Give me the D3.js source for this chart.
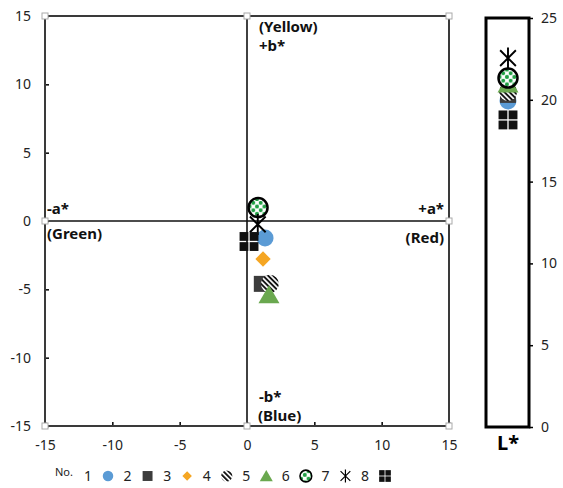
<!DOCTYPE html>
<html>
<head>
<meta charset="utf-8">
<script src="https://cdn.jsdelivr.net/npm/d3@7"></script>
<style>
  body { margin: 0; background: #fff; }
  svg text { font-family: "Noto Sans", "Open Sans", sans-serif; }
  .tick line { stroke: #000; stroke-width: 1.5; }
  .tick text { font-size: 14px; fill: #222; }
</style>
</head>
<body>
<svg id="chart" width="563" height="488"></svg>
<script>
// values
const sampleNo = ['1', '2', '3', '4', '5', '6', '7', '8'];
const aStar = [1.34, 1.1, 1.19, 1.7, 1.63, 0.82, 0.8, 0.15];
const bStar = [-1.24, -4.6, -2.78, -4.6, -5.4, 0.98, -0.25, -1.5];
const lStar = [19.93, 20.3, 20.72, 20.48, 20.97, 21.33, 22.55, 18.77];
const abTicks = [-15, -10, -5, 0, 5, 10, 15];
const lTicks = [0, 5, 10, 15, 20, 25];

// marker look per sample
const markerType = ['circle', 'square', 'diamond', 'striped', 'triangle', 'dotted', 'asterisk', 'quad'];

const svg = d3.select('#chart');

const x = d3.scaleLinear().domain([-15, 15]).range([45, 449]);
const y = d3.scaleLinear().domain([-15, 15]).range([426, 16]);
const yL = d3.scaleLinear().domain([0, 25]).range([427, 18]);
const plain = d => String(d);

const defs = svg.append('defs');
const stripes = defs.append('pattern')
  .attr('id', 'stripes').attr('patternUnits', 'userSpaceOnUse')
  .attr('width', 3.6).attr('height', 3.6)
  .attr('patternTransform', 'rotate(-45)');
stripes.append('rect').attr('width', 3.6).attr('height', 3.6).attr('fill', '#fff');
stripes.append('rect').attr('width', 1.9).attr('height', 3.6).attr('fill', '#111');

const dots = defs.append('pattern')
  .attr('id', 'dots').attr('patternUnits', 'userSpaceOnUse')
  .attr('width', 7.4).attr('height', 7.4).attr('x', 0.8).attr('y', 0.8);
dots.append('rect').attr('width', 7.4).attr('height', 7.4).attr('fill', '#fff');
dots.append('circle').attr('cx', 1.85).attr('cy', 1.85).attr('r', 2).attr('fill', '#22a045');
dots.append('circle').attr('cx', 5.55).attr('cy', 5.55).attr('r', 2).attr('fill', '#22a045');

function drawMarker(g, type, s) {
  // s = scale factor, 1 for plot markers
  if (type === 'circle') {
    g.append('circle').attr('r', 8.5 * s).attr('fill', '#5b9bd5');
  } else if (type === 'square') {
    g.append('rect').attr('x', -8 * s).attr('y', -8 * s)
      .attr('width', 16 * s).attr('height', 16 * s).attr('fill', '#3c3c3c');
  } else if (type === 'diamond') {
    g.append('path').attr('fill', '#f5a623')
      .attr('d', d3.symbol(d3.symbolDiamond2, 150 * s * s)());
  } else if (type === 'striped') {
    g.append('circle').attr('r', 9 * s).attr('fill', 'url(#stripes)');
  } else if (type === 'triangle') {
    g.append('path').attr('fill', '#6aa84f')
      .attr('d', `M0,${-9.5 * s}L${10.5 * s},${8.5 * s}L${-10.5 * s},${8.5 * s}Z`);
  } else if (type === 'dotted') {
    g.append('circle').attr('r', 9.5 * s).attr('fill', 'url(#dots)')
      .attr('stroke', '#000').attr('stroke-width', 2.5 * s);
  } else if (type === 'asterisk') {
    const r = 10.5 * s;
    g.append('path').attr('fill', 'none').attr('stroke', '#000')
      .attr('stroke-width', 1.9 * s)
      .attr('d', `M0,${-r}V${r}M${-0.75 * r},${-0.75 * r}L${0.75 * r},${0.75 * r}M${0.75 * r},${-0.75 * r}L${-0.75 * r},${0.75 * r}`);
  } else if (type === 'quad') {
    const h = 8.8 * s, gap = 1.3 * s;
    [[-1, -1], [1, -1], [-1, 1], [1, 1]].forEach(([i, j]) => {
      g.append('rect')
        .attr('x', i < 0 ? -h - gap / 2 : gap / 2)
        .attr('y', j < 0 ? -h - gap / 2 : gap / 2)
        .attr('width', h).attr('height', h).attr('fill', '#111');
    });
  }
}

// ---- main a*/b* plot ----
svg.append('g')
  .attr('transform', 'translate(45,0)')
  .call(d3.axisLeft(y).tickValues(abTicks).tickFormat(plain).tickSizeInner(-4).tickSizeOuter(0).tickPadding(14))
  .call(g => g.select('.domain').remove());

svg.append('g')
  .attr('transform', 'translate(0,426)')
  .call(d3.axisBottom(x).tickValues(abTicks).tickFormat(plain).tickSizeInner(-4).tickSizeOuter(0).tickPadding(14))
  .call(g => g.select('.domain').remove());

svg.append('rect')
  .attr('x', x(-15)).attr('y', y(15))
  .attr('width', x(15) - x(-15)).attr('height', y(-15) - y(15))
  .attr('fill', 'none').attr('stroke', '#3a3a3a').attr('stroke-width', 2);

svg.append('line')
  .attr('x1', x(0)).attr('x2', x(0)).attr('y1', y(15)).attr('y2', y(-15))
  .attr('stroke', '#111').attr('stroke-width', 1.6);
svg.append('line')
  .attr('x1', x(-15)).attr('x2', x(15)).attr('y1', y(0)).attr('y2', y(0))
  .attr('stroke', '#111').attr('stroke-width', 1.6);

// little selection handles on the frame
const handles = [];
[-15, 0, 15].forEach(a => [-15, 0, 15].forEach(b => {
  if (a !== 0 || b !== 0) handles.push([a, b]);
}));
svg.selectAll('.handle').data(handles).enter().append('rect')
  .attr('class', 'handle')
  .attr('x', d => x(d[0]) - 3).attr('y', d => y(d[1]) - 3)
  .attr('width', 6).attr('height', 6)
  .attr('fill', '#fff').attr('stroke', '#aaa').attr('stroke-width', 1);

const lab = svg.append('g').style('font-weight', 'bold').style('font-size', '15px').attr('fill', '#111');
lab.append('text').attr('x', x(0) + 12).attr('y', 32).text('(Yellow)');
lab.append('text').attr('x', x(0) + 12).attr('y', 51).text('+b*');
lab.append('text').attr('x', x(-15) + 2).attr('y', 214).text('-a*');
lab.append('text').attr('x', x(-15) + 2).attr('y', 239).text('(Green)');
lab.append('text').attr('x', x(15) - 5).attr('y', 214).attr('text-anchor', 'end').text('+a*');
lab.append('text').attr('x', x(15) - 5).attr('y', 243).attr('text-anchor', 'end').text('(Red)');
lab.append('text').attr('x', x(0) + 12).attr('y', 402).text('-b*');
lab.append('text').attr('x', x(0) + 11).attr('y', 421).text('(Blue)');

const pts = sampleNo.map((n, i) => ({ n, a: aStar[i], b: bStar[i], L: lStar[i], type: markerType[i] }));

svg.selectAll('.pt').data(pts).enter().append('g')
  .attr('class', 'pt')
  .attr('transform', d => `translate(${x(d.a)},${y(d.b)})`)
  .each(function (d) { drawMarker(d3.select(this), d.type, 1); });

// ---- L* panel ----
svg.append('g')
  .attr('transform', 'translate(529,0)')
  .call(d3.axisRight(yL).tickValues(lTicks).tickFormat(plain).tickSizeInner(4).tickSizeOuter(0).tickPadding(8))
  .call(g => g.select('.domain').remove());

svg.append('rect')
  .attr('x', 486).attr('y', yL(25))
  .attr('width', 43).attr('height', yL(0) - yL(25))
  .attr('fill', 'none').attr('stroke', '#000').attr('stroke-width', 3);

svg.selectAll('.lpt').data(pts).enter().append('g')
  .attr('class', 'lpt')
  .attr('transform', d => `translate(508,${yL(d.L)})`)
  .each(function (d) { drawMarker(d3.select(this), d.type, 1); });

svg.append('text')
  .attr('x', 508).attr('y', 450).attr('text-anchor', 'middle')
  .style('font-weight', 'bold').style('font-size', '20px').text('L*');

// ---- legend ----
const leg = svg.append('g').attr('transform', 'translate(0,476)');
leg.append('text').attr('x', 55).attr('y', 0).style('font-size', '11px').attr('fill', '#222').text('No.');
const legX = d3.scalePoint().domain(sampleNo).range([88, 365]);
const item = leg.selectAll('.li').data(pts).enter().append('g')
  .attr('class', 'li')
  .attr('transform', d => `translate(${legX(d.n)},0)`);
item.append('text').attr('y', 5).attr('text-anchor', 'middle')
  .style('font-size', '14px').attr('fill', '#222').text(d => d.n);
item.append('g').attr('transform', 'translate(20,0)')
  .each(function (d) { drawMarker(d3.select(this), d.type, 0.62); });
</script>
</body>
</html>
